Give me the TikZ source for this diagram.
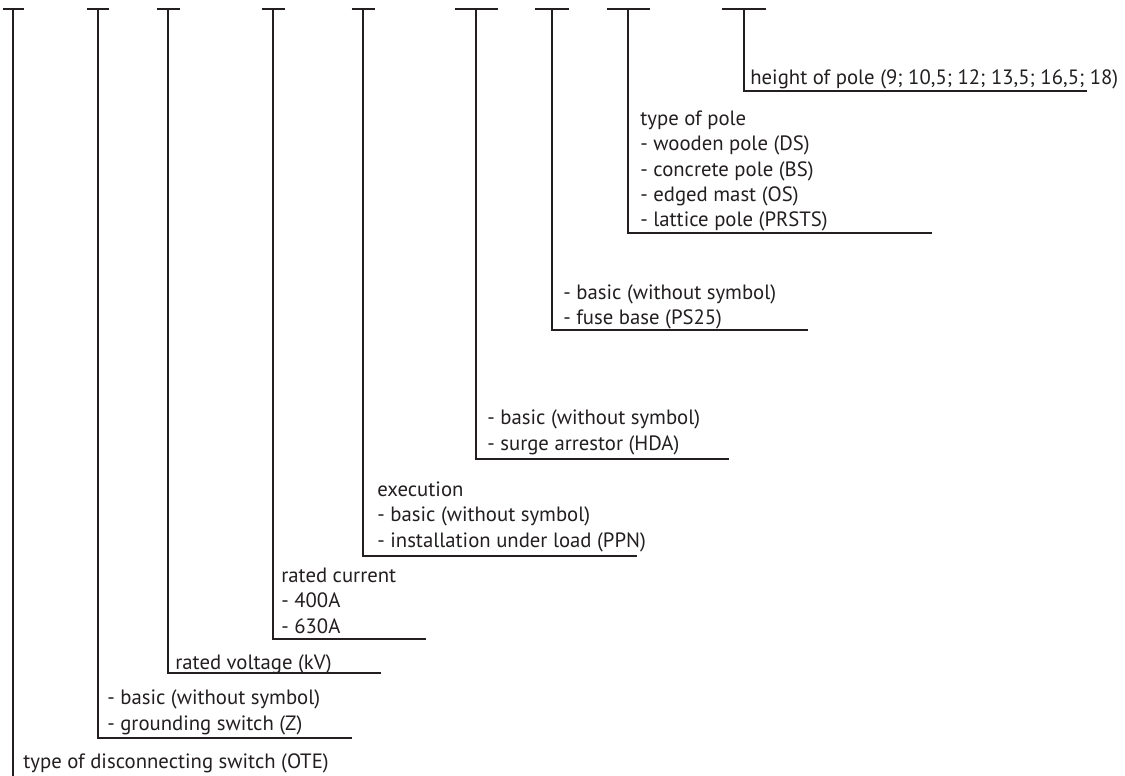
\documentclass[tikz,border=0pt]{standalone}
\usepackage{fontspec}
\setmainfont{PT Sans}
\definecolor{ink}{RGB}{35,31,32}
\tikzset{
  lead/.style={draw=ink, line width=1.1pt},
  lbl/.style={text=ink, font=\fontsize{11.8}{14.5}\selectfont, align=left, inner sep=0pt, anchor=base west},
}

\begin{document}
\begin{tikzpicture}[x=0.02cm,y=-0.02cm]
  \useasboundingbox (0,0) rectangle (1125,776);
  % tops of the leads, with their bars
  \foreach \n/\x/\w in {1/13/21, 2/98/22, 3/168/23, 4/273/23, 5/363/23, 6/476/43, 7/552/34, 8/628/43, 9/744/44} {
    \coordinate (t\n) at (\x,9);
    \draw[lead] (\x-\w/2,9) -- (\x+\w/2,9);
  }
  % corners and ends
  \coordinate (c1) at (13,776);
  \coordinate (c2) at (98,738);   \coordinate (e2) at (352,738);
  \coordinate (c3) at (168,673);  \coordinate (e3) at (381,673);
  \coordinate (c4) at (273,639);  \coordinate (e4) at (426,639);
  \coordinate (c5) at (363,556);  \coordinate (e5) at (637,556);
  \coordinate (c6) at (476,459);  \coordinate (e6) at (729,459);
  \coordinate (c7) at (552,330);  \coordinate (e7) at (808,330);
  \coordinate (c8) at (628,233);  \coordinate (e8) at (932,233);
  \coordinate (c9) at (744,91);   \coordinate (e9) at (1087,91);

  \draw[lead] (t1) -- (c1);
  \foreach \n in {2,...,9}
    \draw[lead] (t\n) -- (c\n) -- (e\n);

  % labels (base = baseline of the last line)
  \node[lbl] (l1) at (23,768) {type of disconnecting switch (OTE)};
  \node[lbl] (l2) at (107,730) {- basic (without symbol)\\- grounding switch (Z)};
  \node[lbl] (l3) at (175,669) {rated voltage (kV)};
  \node[lbl] (l4) at (281,633) {rated current\\- 400A\\- 630A};
  \node[lbl] (l5) at (377,547) {execution\\- basic (without symbol)\\- installation under load (PPN)};
  \node[lbl] (l6) at (487,450) {- basic (without symbol)\\- surge arrestor (HDA)};
  \node[lbl] (l7) at (563,325) {- basic (without symbol)\\- fuse base (PS25)};
  \node[lbl] (l8) at (640,227) {type of pole\\- wooden pole (DS)\\- concrete pole (BS)\\- edged mast (OS)\\- lattice pole (PRSTS)};
  \node[lbl] (l9) at (750,85) {height of pole (9; 10,5; 12; 13,5; 16,5; 18)};
\end{tikzpicture}
\end{document}
